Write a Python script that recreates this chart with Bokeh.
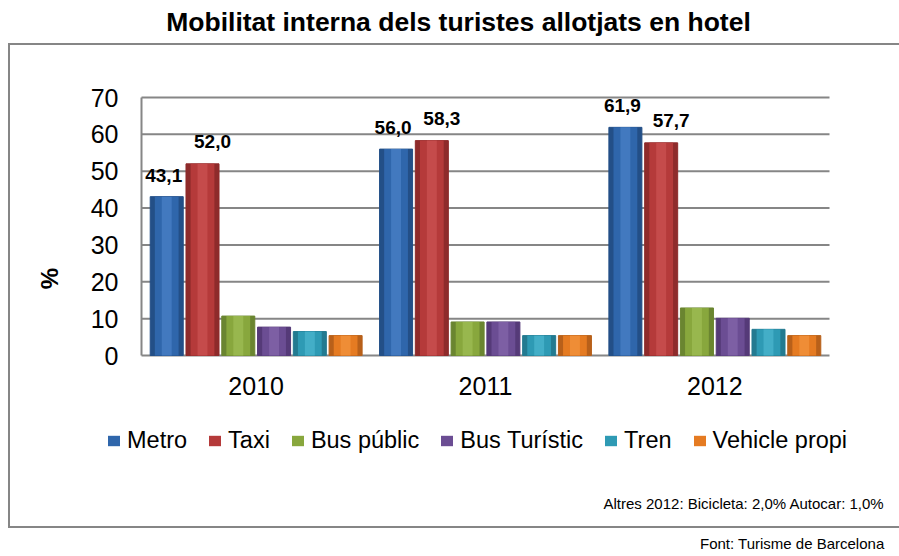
from bokeh.plotting import figure
from bokeh.models import (FactorRange, Range1d, ColumnDataSource, LabelSet, Label,
                          Legend, LegendItem, FixedTicker, Title)
from bokeh.transform import dodge
from bokeh.core.properties import value
from bokeh.embed import file_html
from bokeh.resources import INLINE

# ---------------- data ----------------
years = ["2010", "2011", "2012"]
series_names = ["Metro", "Taxi", "Bus públic", "Bus Turístic", "Tren", "Vehicle propi"]
metro = [43.1, 56.0, 61.9]
taxi = [52.0, 58.3, 57.7]
bus_public = [10.7, 9.1, 12.9]
bus_turistic = [7.7, 9.1, 10.1]
tren = [6.5, 5.4, 7.1]
vehicle_propi = [5.4, 5.4, 5.4]
y_ticks = [0, 10, 20, 30, 40, 50, 60, 70]

title_text = "Mobilitat interna dels turistes allotjats en hotel"
y_label_text = "%"
note_text = "Altres 2012: Bicicleta: 2,0% Autocar: 1,0%"
source_text = "Font: Turisme de Barcelona"

# ---------------- styling / layout ----------------
FONT = "Liberation Sans"
GRID = "#868686"
edge_colors = ["#234F87", "#8E2B2B", "#6A8530", "#553A78", "#237A90", "#B8601A"]
mid_colors = ["#2F66AB", "#B53A3A", "#88A73D", "#6B4D93", "#2E9AB4", "#E57B22"]
hi_colors = ["#4A82C8", "#CC5252", "#A0BE55", "#8466AB", "#4DB6CF", "#F4963F"]

W, H = 899, 556
PL, PR, PT, PB = 141, 829, 97, 355      # plot-area edges (pixels)
YMAX = 70
gw = (PR - PL) / len(years)             # pixels per category
pad = (W - PR) / gw                     # symmetric padding (category units)
frame_left = PL - (W - PR)
ppu = (PB - PT) / YMAX                  # pixels per y unit
y_start = -(H - PB) / ppu
y_end = YMAX + PT / ppu

src = ColumnDataSource(data=dict(
    year=years,
    s0=metro, s1=taxi, s2=bus_public, s3=bus_turistic, s4=tren, s5=vehicle_propi,
    t0=[f"{v:.1f}".replace(".", ",") for v in metro],
    t1=[f"{v:.1f}".replace(".", ",") for v in taxi],
))

p = figure(x_range=FactorRange(factors=years, range_padding=pad,
                               range_padding_units="absolute"),
           y_range=Range1d(y_start, y_end),
           width=W, height=H, output_backend="svg", toolbar_location=None,
           min_border_left=frame_left, min_border_right=0,
           min_border_top=0, min_border_bottom=0)
p.outline_line_color = None
p.border_fill_alpha = 0
p.background_fill_alpha = 0

# outer frame box
p.styles = {
    "background-image": ("linear-gradient(#868686, #868686), "
                         "linear-gradient(#868686, #868686), "
                         "linear-gradient(#868686, #868686)"),
    "background-size": "2px 485px, 895px 2px, 895px 2px",
    "background-position": "8px 43px, 8px 43px, 8px 526px",
    "background-repeat": "no-repeat",
    "background-color": "white",
}

# horizontal grid lines limited to the plot area
gsrc = ColumnDataSource(data=dict(y=y_ticks, a=[years[0]] * len(y_ticks),
                                  b=[years[-1]] * len(y_ticks)))
p.segment(x0=dodge("a", -0.5, range=p.x_range), x1=dodge("b", 0.5, range=p.x_range),
          y0="y", y1="y", source=gsrc, line_color=GRID, line_width=2, level="underlay")

# bars
slot = 0.156
bw = 0.144
offsets = [(i - 2.5) * slot for i in range(6)]
legend_items = []
for i, name in enumerate(series_names):
    col = f"s{i}"
    xs = dodge("year", offsets[i], range=p.x_range)
    p.vbar(x=xs, top=col, width=bw, source=src, fill_color=edge_colors[i],
           line_color=edge_colors[i], line_width=1)
    r_mid = p.vbar(x=xs, top=col, width=bw * 0.72, source=src, fill_color=mid_colors[i],
                   line_color=None)
    p.vbar(x=xs, top=col, width=bw * 0.30, source=src, fill_color=hi_colors[i],
           line_color=None, fill_alpha=0.7)
    legend_items.append(LegendItem(label=name, renderers=[r_mid]))

# data labels (Metro & Taxi)
for i, xo, yo in [(0, -3, 15), (1, 10, 16)]:
    ls = LabelSet(x=dodge("year", offsets[i], range=p.x_range), y=f"s{i}", text=f"t{i}",
                  source=src, x_offset=xo, y_offset=yo, text_align="center",
                  text_baseline="bottom", text_font=value(FONT), text_font_style="bold",
                  text_font_size="19px", text_color="black")
    p.add_layout(ls)

# axes placed at the plot-area edges
p.yaxis.fixed_location = 0
p.yaxis.bounds = (0, YMAX)
p.yaxis.ticker = FixedTicker(ticks=y_ticks)
p.yaxis.major_label_text_font = FONT
p.yaxis.major_label_text_font_size = "25px"
p.yaxis.major_label_text_color = "black"
p.yaxis.axis_line_color = GRID
p.yaxis.axis_line_width = 2
p.yaxis.major_tick_line_color = None
p.yaxis.minor_tick_line_color = None
p.yaxis.major_tick_out = 0
p.yaxis.major_tick_in = 0
p.yaxis.major_label_standoff = 23

p.xaxis.fixed_location = 0
p.xaxis.major_label_text_font = FONT
p.xaxis.major_label_text_font_size = "25px"
p.xaxis.major_label_text_color = "black"
p.xaxis.axis_line_color = None
p.xaxis.major_tick_line_color = None
p.xaxis.minor_tick_line_color = None
p.xaxis.major_tick_out = 0
p.xaxis.major_tick_in = 0
p.xaxis.major_label_standoff = 21

p.xgrid.grid_line_color = None
p.ygrid.grid_line_color = None

# title
p.add_layout(Label(x=458, y=21, x_units="canvas", y_units="canvas", text=title_text,
                   text_align="center", text_baseline="alphabetic", text_font=FONT,
                   text_font_style="bold", text_font_size="26.5px", text_color="black"))

# "%" (left)
p.add_layout(Title(text=y_label_text, align="center", offset=0, standoff=18,
                   text_font=FONT, text_font_style="bold", text_font_size="24px",
                   text_color="black"), "left")

# legend
legend = Legend(items=legend_items, orientation="horizontal",
                location=(106 - frame_left, H - 454),
                glyph_width=15, glyph_height=13, label_standoff=6, spacing=20,
                padding=0, margin=0, border_line_color=None, background_fill_alpha=0,
                label_text_font=FONT, label_text_font_size="23.5px", label_height=24,
                label_text_color="black")
p.add_layout(legend, "center")

# notes
p.add_layout(Label(x=884, y=503, x_units="canvas", y_units="canvas", text=note_text,
                   text_align="right", text_baseline="alphabetic", text_font=FONT,
                   text_font_size="15px", text_color="black"))
p.add_layout(Label(x=884, y=543, x_units="canvas", y_units="canvas", text=source_text,
                   text_align="right", text_baseline="alphabetic", text_font=FONT,
                   text_font_size="15px", text_color="black"))

open("out.html", "w").write(file_html(p, INLINE))
